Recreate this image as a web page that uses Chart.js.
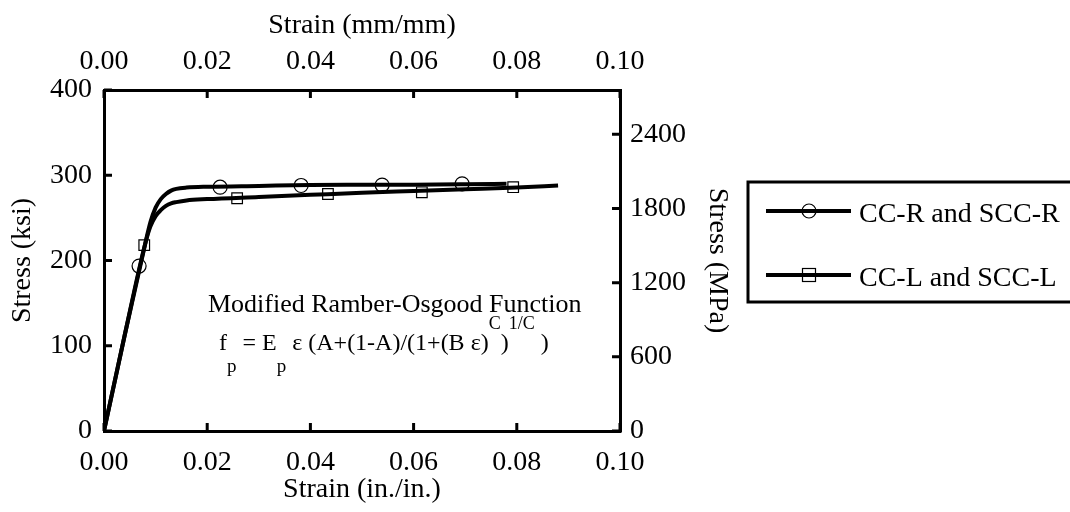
<!DOCTYPE html>
<html>
<head>
<meta charset="utf-8">
<script src="https://cdn.jsdelivr.net/npm/chart.js@4.4.1/dist/chart.umd.min.js"></script>
<style>
  html, body { margin: 0; padding: 0; background: #fff; }
  #wrap { width: 1070px; height: 512px; }
</style>
</head>
<body>
<div id="wrap"><canvas id="c" width="1070" height="512"></canvas></div>
<script>
// ---- data ----
const strainR = [0, 0.004, 0.008, 0.009, 0.010, 0.011, 0.012, 0.013, 0.014, 0.016, 0.020, 0.030, 0.040, 0.050, 0.060, 0.070, 0.078];
const stressR = [0, 112, 220, 245, 262, 272, 278, 282, 284, 285.5, 286.5, 287.5, 288.5, 288.8, 289, 289.5, 290];
const strainL = [0, 0.004, 0.008, 0.009, 0.010, 0.011, 0.012, 0.013, 0.014, 0.016, 0.020, 0.030, 0.040, 0.050, 0.060, 0.070, 0.080, 0.088];
const stressL = [0, 112, 220, 240, 252, 259, 264, 267, 268.5, 270.5, 272, 274.5, 277, 279.5, 281.5, 283.5, 285.5, 288];
const markStrainR = [0.0068, 0.0225, 0.0382, 0.0539, 0.0694];
const markStressR = [193.5, 286, 288, 288.5, 290];
const markStrainL = [0.0078, 0.0258, 0.0434, 0.0616, 0.0793];
const markStressL = [218, 273, 278, 280, 286];
const strainTicks = [0, 0.02, 0.04, 0.06, 0.08, 0.10];
const ksiTicks = [0, 100, 200, 300, 400];
const mpaTicks = [0, 600, 1200, 1800, 2400];
const seriesNames = ['CC-R and SCC-R', 'CC-L and SCC-L'];
const MPA_PER_KSI = 6.895;

const pts = (xs, ys) => xs.map((x, i) => ({ x: x, y: ys[i] }));
const FONT = '"Liberation Serif", "Times New Roman", serif';
Chart.defaults.font.family = FONT;
Chart.defaults.color = '#000';

const fixTicks = arr => scale => { scale.ticks = arr.map(v => ({ value: v })); };

const inwardTicks = {
  id: 'inwardTicks',
  afterDraw(chart) {
    const ctx = chart.ctx, a = chart.chartArea, L = 8;
    const s = chart.scales;
    ctx.save();
    ctx.strokeStyle = '#000';
    ctx.lineWidth = 3;
    ctx.beginPath();
    strainTicks.forEach(v => {
      const px = s.x.getPixelForValue(v);
      ctx.moveTo(px, a.bottom); ctx.lineTo(px, a.bottom - L);
      const px2 = s.x2.getPixelForValue(v);
      ctx.moveTo(px2, a.top); ctx.lineTo(px2, a.top + L);
    });
    ksiTicks.forEach(v => {
      const py = s.y.getPixelForValue(v);
      ctx.moveTo(a.left, py); ctx.lineTo(a.left + L, py);
    });
    mpaTicks.forEach(v => {
      const py = s.y2.getPixelForValue(v);
      ctx.moveTo(a.right + 2, py); ctx.lineTo(a.right - L, py);
    });
    ctx.stroke();
    ctx.restore();
  }
};

const annotation = {
  id: 'annotation',
  afterDraw(chart) {
    const ctx = chart.ctx;
    ctx.save();
    ctx.fillStyle = '#000';
    ctx.textBaseline = 'alphabetic';
    ctx.textAlign = 'left';
    ctx.font = '26px ' + FONT;
    ctx.fillText('Modified Ramber-Osgood Function', 208, 312);
    const base = 350;
    const parts = [
      ['f', 24, 0], ['p', 19, 22], [' = E', 24, 0], ['p', 19, 22],
      [' \u03b5 (A+(1-A)/(1+(B \u03b5)', 24, 0], ['C', 18, -21], [')', 24, 0],
      ['1/C', 18, -21], [' )', 24, 0]
    ];
    let x = 219;
    parts.forEach(([t, sz, dy]) => {
      ctx.font = sz + 'px ' + FONT;
      ctx.fillText(t, x, base + dy);
      x += ctx.measureText(t).width;
    });
    ctx.restore();
  }
};

const legendBox = {
  id: 'legendBox',
  afterDraw(chart) {
    const ctx = chart.ctx;
    ctx.save();
    ctx.strokeStyle = '#000';
    ctx.lineWidth = 3;
    ctx.strokeRect(748, 182, 340, 120);
    const rows = [211, 275];
    rows.forEach((y, i) => {
      ctx.lineWidth = 4;
      ctx.beginPath(); ctx.moveTo(766, y); ctx.lineTo(851, y); ctx.stroke();
      ctx.lineWidth = 1.2;
      if (i === 0) {
        ctx.beginPath(); ctx.arc(809, y, 7, 0, Math.PI * 2); ctx.stroke();
      } else {
        ctx.strokeRect(802.5, y - 6.5, 13, 13);
      }
      ctx.fillStyle = '#000';
      ctx.font = '28px ' + FONT;
      ctx.textBaseline = 'alphabetic';
      ctx.fillText(seriesNames[i], 859, y + 11);
    });
    ctx.restore();
  }
};

const tickFont = { size: 28, family: FONT };
const titleFont = { size: 28, family: FONT, lineHeight: 1 };

new Chart(document.getElementById('c'), {
  type: 'scatter',
  data: {
    datasets: [
      { label: seriesNames[0], data: pts(strainR, stressR), showLine: true, borderColor: '#000', borderWidth: 4, pointRadius: 0, cubicInterpolationMode: 'monotone', xAxisID: 'x', yAxisID: 'y' },
      { label: seriesNames[1], data: pts(strainL, stressL), showLine: true, borderColor: '#000', borderWidth: 4, pointRadius: 0, cubicInterpolationMode: 'monotone', xAxisID: 'x', yAxisID: 'y' },
      { label: seriesNames[0] + ' markers', data: pts(markStrainR, markStressR), showLine: false, pointStyle: 'circle', pointRadius: 7, pointBorderWidth: 1.2, pointBorderColor: '#000', pointBackgroundColor: 'rgba(0,0,0,0)', xAxisID: 'x', yAxisID: 'y' },
      { label: seriesNames[1] + ' markers', data: pts(markStrainL, markStressL), showLine: false, pointStyle: 'rect', pointRadius: 7.5, pointBorderWidth: 1.2, pointBorderColor: '#000', pointBackgroundColor: 'rgba(0,0,0,0)', xAxisID: 'x', yAxisID: 'y' }
    ]
  },
  options: {
    responsive: false,
    animation: false,
    layout: { padding: { left: 0, top: 0, right: 330, bottom: 0 } },
    plugins: { legend: { display: false }, tooltip: { enabled: false } },
    scales: {
      x: {
        type: 'linear', position: 'bottom', min: 0, max: 0.1,
        afterBuildTicks: fixTicks(strainTicks),
        afterFit: s => { s.height = 81; },
        grid: { display: false, drawTicks: false },
        border: { display: true, color: '#000', width: 3 },
        ticks: { font: tickFont, padding: 15, maxRotation: 0, callback: v => v.toFixed(2) },
        title: { display: true, text: 'Strain (in./in.)', font: titleFont, padding: { top: 0, bottom: 8 } }
      },
      x2: {
        type: 'linear', position: 'top', min: 0, max: 0.1,
        afterBuildTicks: fixTicks(strainTicks),
        afterFit: s => { s.height = 90; },
        grid: { display: false, drawTicks: false },
        border: { display: true, color: '#000', width: 3 },
        ticks: { font: tickFont, padding: 12, maxRotation: 0, callback: v => v.toFixed(2) },
        title: { display: true, text: 'Strain (mm/mm)', font: titleFont, padding: { top: 12, bottom: 0 } }
      },
      y: {
        type: 'linear', position: 'left', min: 0, max: 400,
        afterBuildTicks: fixTicks(ksiTicks),
        afterFit: s => { s.width = 104; },
        grid: { display: false, drawTicks: false },
        border: { display: true, color: '#000', width: 3 },
        ticks: { font: tickFont, padding: 12, callback: v => String(v) },
        title: { display: true, text: 'Stress (ksi)', font: titleFont, padding: { top: 9, bottom: 0 } }
      },
      y2: {
        type: 'linear', position: 'right', min: 0, max: 400 * MPA_PER_KSI,
        afterBuildTicks: fixTicks(mpaTicks),
        afterFit: s => { s.width = 120; },
        grid: { display: false, drawTicks: false },
        border: { display: true, color: '#000', width: 3 },
        ticks: { font: tickFont, padding: 10, callback: v => String(v) },
        title: { display: true, text: 'Stress (MPa)', font: titleFont, padding: { top: 9, bottom: 0 } }
      }
    }
  },
  plugins: [inwardTicks, annotation, legendBox]
});
</script>
</body>
</html>
